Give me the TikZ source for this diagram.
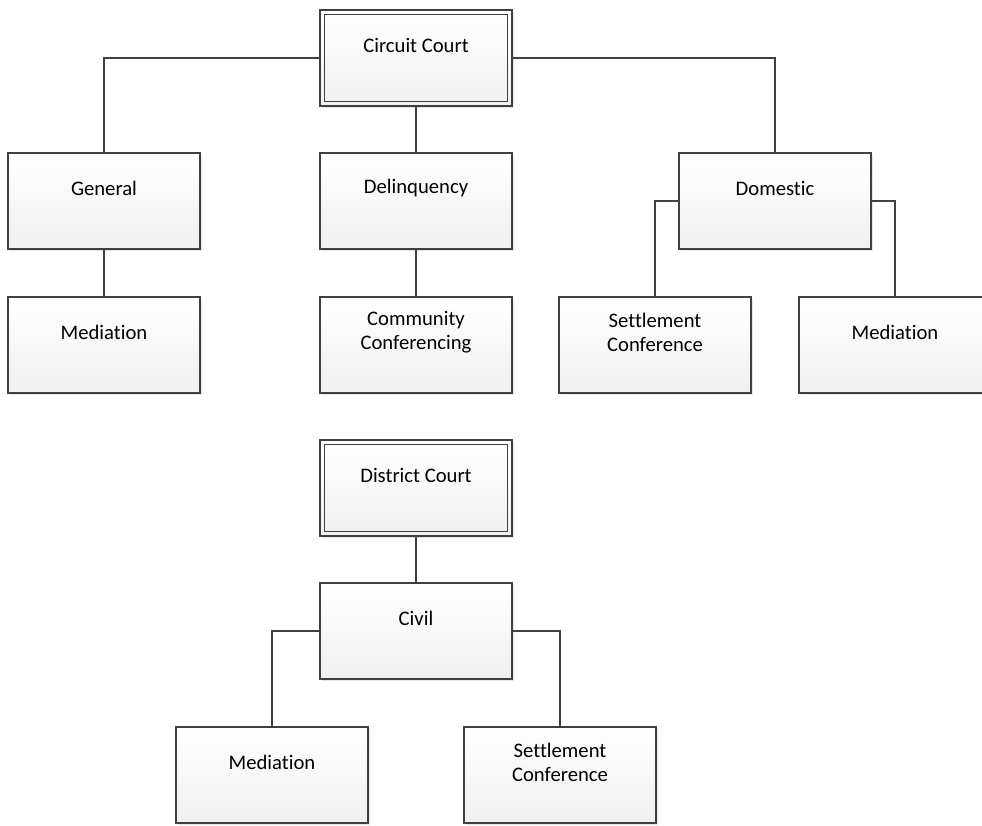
\documentclass[tikz,border=0pt]{standalone}
\usepackage{fontspec}
\setmainfont{Carlito}[Ligatures={NoCommon}]
\usetikzlibrary{calc,shadows}
\definecolor{edgegray}{HTML}{404040}
\definecolor{fillbot}{HTML}{F0F0F0}
\tikzset{
  orgbox/.style={rectangle, draw=edgegray, line width=1pt,
    minimum width=144pt, minimum height=72pt, inner sep=0pt,
    top color=white, bottom color=fillbot,
    drop shadow={shadow xshift=1.8pt, shadow yshift=-1.8pt, fill=black, opacity=0.10}},
  orgtext/.style={align=center, inner sep=0pt, font=\fontsize{15.5}{18}\selectfont},
  link/.style={draw=edgegray, line width=1.5pt},
  innerframe/.style={draw=edgegray, line width=1pt}
}
\begin{document}
\begin{tikzpicture}[x=0.75pt,y=-0.75pt]
\useasboundingbox (0,0) rectangle (982,825);
% boxes
\node[orgbox] (cc) at (416,58) {};
\draw[innerframe] ($(cc.north west)+(5,5)$) rectangle ($(cc.south east)+(-5,-5)$);
\node[orgbox] (gen) at (104,201) {};
\node[orgbox] (del) at (416,201) {};
\node[orgbox] (dom) at (775,201) {};
\node[orgbox] (med1) at (104,345) {};
\node[orgbox] (cconf) at (416,345) {};
\node[orgbox] (sc1) at (655,345) {};
\node[orgbox] (med2) at (895,345) {};
\node[orgbox] (dc) at (416,488) {};
\draw[innerframe] ($(dc.north west)+(5,5)$) rectangle ($(dc.south east)+(-5,-5)$);
\node[orgbox] (civ) at (416,631) {};
\node[orgbox] (med3) at (272,775) {};
\node[orgbox] (sc2) at (560,775) {};
% texts
\node[orgtext] (ccT) at ($(cc.north)+(0,36)$) {Circuit Court};
\node[orgtext] (genT) at ($(gen.north)+(0,36)$) {General};
\node[orgtext] (delT) at ($(del.north)+(0,36)$) {Delinquency};
\node[orgtext] (domT) at ($(dom.north)+(0,36)$) {Domestic};
\node[orgtext] (med1T) at ($(med1.north)+(0,36)$) {Mediation};
\node[orgtext] (cconfT) at ($(cconf.north)+(0,36)$) {Community\\Conferencing};
\node[orgtext] (sc1T) at ($(sc1.north)+(0,36)$) {Settlement\\Conference};
\node[orgtext] (med2T) at ($(med2.north)+(0,36)$) {Mediation};
\node[orgtext] (dcT) at ($(dc.north)+(0,36)$) {District Court};
\node[orgtext] (civT) at ($(civ.north)+(0,36)$) {Civil};
\node[orgtext] (med3T) at ($(med3.north)+(0,36)$) {Mediation};
\node[orgtext] (sc2T) at ($(sc2.north)+(0,36)$) {Settlement\\Conference};
% connectors
\draw[link] (cc.west) -| (gen.north);
\draw[link] (cc.south) -- (del.north);
\draw[link] (cc.east) -| (dom.north);
\draw[link] (gen.south) -- (med1.north);
\draw[link] (del.south) -- (cconf.north);
\draw[link] (dom.west) -| (sc1.north);
\draw[link] (dom.east) -| (med2.north);
\draw[link] (dc.south) -- (civ.north);
\draw[link] (civ.west) -| (med3.north);
\draw[link] (civ.east) -| (sc2.north);
\end{tikzpicture}
\end{document}
